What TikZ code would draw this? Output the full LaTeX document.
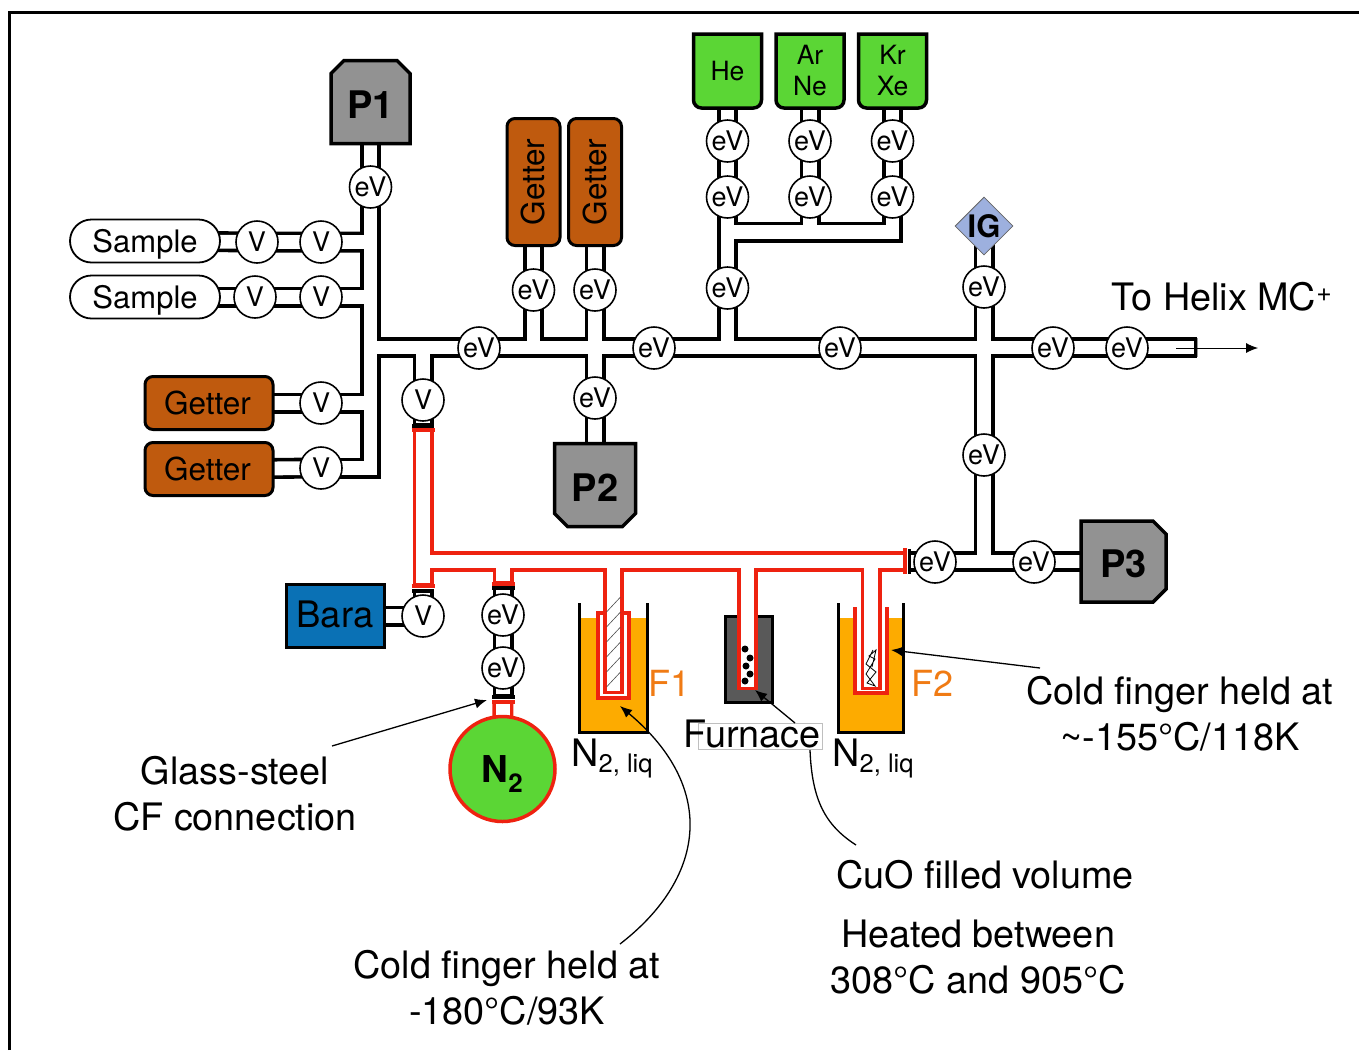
\documentclass[tikz,border=0pt]{standalone}
\usepackage{fontspec}
\setmainfont{TeX Gyre Heros}
\usetikzlibrary{shapes.geometric}
\usetikzlibrary{shapes.misc}
\usetikzlibrary{backgrounds}
\usetikzlibrary{arrows.meta}

\begin{document}
\begin{tikzpicture}[x=1pt, y=-1pt]
    % Definitions
    \definecolor{pump-grey}{RGB}{146, 146, 146}
    \definecolor{getter-brown}{RGB}{191, 90, 14}
    \definecolor{gas-green}{RGB}{91, 214, 53}
    \definecolor{bara-blue}{RGB}{10, 113, 181}
    \definecolor{gauge-blue}{RGB}{157, 176, 222}
    \definecolor{pipe-red}{RGB}{238, 34, 16}
    \definecolor{nitrogen-orange}{RGB}{253, 171, 0}
    \definecolor{finger-orange}{RGB}{240, 123, 20}
    \definecolor{furnace-grey}{RGB}{89, 89, 89}

    \tikzset{
        valvenode/.style={circle, draw, fill=white, line width=1.6pt,
            minimum size=42pt, inner sep=0, font=\fontsize{27}{30}\selectfont},
        pumpnode/.style={chamfered rectangle, draw, fill=pump-grey,
            line width=3.5pt, inner sep=0, chamfered rectangle xsep=6.5pt,
            chamfered rectangle ysep=6.5pt, text height=32pt, text depth=0pt,
            font=\fontsize{38}{40}\selectfont\bfseries},
        getternode/.style={rectangle, draw, fill=getter-brown, line width=3pt,
            rounded corners=8pt, inner sep=0,
            font=\fontsize{31.5}{34}\selectfont},
        samplenode/.style={rectangle, draw, fill=white, line width=1.8pt,
            rounded corners=21.5pt, minimum width=150pt, minimum height=43pt,
            inner sep=0, text depth=0pt, font=\fontsize{31}{34}\selectfont},
        textnote/.style={align=center, inner sep=0,
            font=\fontsize{37.8}{46}\selectfont},
        notearrow/.style={line width=1.3pt, -{Latex[length=12pt, width=10pt]}},
        pipeouter/.style={line width=21pt},
        pipecore/.style={line width=13.8pt, white, shorten >=3pt},
        flange/.style={line width=3.6pt, line cap=butt}
    }

    \newcommand{\drawbottle}[3]{
        \filldraw[fill=gas-green, line width=3.5pt]
            (#2-34,34) -- (#2+34,34) [rounded corners=8pt]
            -- (#2+34,108) -- (#2-34,108) [sharp corners] -- cycle;
        \node[align=center, inner sep=0,
              font=\fontsize{26.5}{31}\selectfont
        ] (#1) at (#2,71) {#3};
    }

    \newcommand{\drawdewar}[2]{
        \fill[nitrogen-orange] (#1,618) rectangle (#2,732);
        \draw[line width=3pt] (#1,603) -- (#1,732) -- (#2,732) -- (#2,603);
    }

    % Frame
    \useasboundingbox (0,0) rectangle (1359,1050);
    \draw[line width=3pt] (9,1050) -- (9,12) -- (1359,12);

    % Pumps
    \node[pumpnode, chamfered rectangle corners={north west, north east},
          minimum width=79pt, minimum height=83pt
    ] (p1) at (370.5,102) {P1};
    \node[pumpnode, chamfered rectangle corners={south west, south east},
          minimum width=81pt, minimum height=83pt
    ] (p2) at (595,485) {P2};
    \node[pumpnode, chamfered rectangle corners={north east, south east},
          minimum width=85pt, minimum height=81pt
    ] (p3) at (1123.5,561.5) {P3};

    % Samples and getters
    \node[samplenode] (sample-a) at (145,241) {Sample};
    \node[samplenode] (sample-b) at (145,297) {Sample};
    \node[getternode, minimum width=128pt, minimum height=53pt
    ] (getter-c) at (209,403) {\hspace{-3pt}Getter};
    \node[getternode, minimum width=128pt, minimum height=53pt
    ] (getter-d) at (209,469) {\hspace{-3pt}Getter};
    \node[getternode, minimum width=127pt, minimum height=53pt, rotate=90
    ] (getter-e) at (533.5,182) {Getter};
    \node[getternode, minimum width=127pt, minimum height=53pt, rotate=90
    ] (getter-f) at (595,182) {Getter};

    % Gas bottles
    \drawbottle{gas-he}{727.5}{He}
    \drawbottle{gas-ar}{810}{Ar\\Ne}
    \drawbottle{gas-kr}{892.5}{Kr\\Xe}

    % Left valves
    \node[valvenode] (v-a1) at (257,242) {V};
    \node[valvenode] (v-a2) at (321,242) {V};
    \node[valvenode] (v-b1) at (255,297) {V};
    \node[valvenode] (v-b2) at (321,297) {V};
    \node[valvenode] (v-c) at (321,403) {V};
    \node[valvenode] (v-d) at (321,468) {V};
    \node[valvenode] (v-top) at (423,400) {V};
    \node[valvenode] (v-bara) at (423,616) {V};

    % Valves on the main line
    \node[valvenode] (ev-p1) at (370.5,187) {eV};
    \node[valvenode] (ev-m1) at (479,348) {eV};
    \node[valvenode] (ev-e) at (533.5,290) {eV};
    \node[valvenode] (ev-f) at (595,290) {eV};
    \node[valvenode] (ev-p2) at (595,398) {eV};
    \node[valvenode] (ev-m2) at (654,348) {eV};
    \node[valvenode] (ev-m3) at (840,348) {eV};
    \node[valvenode] (ev-m4) at (1053,348) {eV};
    \node[valvenode] (ev-m5) at (1127,348) {eV};

    % Valves of the gas bottles
    \node[valvenode] (ev-he1) at (727.5,141) {eV};
    \node[valvenode] (ev-he2) at (727.5,197) {eV};
    \node[valvenode] (ev-he3) at (727.5,288) {eV};
    \node[valvenode] (ev-ar1) at (810,141) {eV};
    \node[valvenode] (ev-ar2) at (810,197) {eV};
    \node[valvenode] (ev-kr1) at (892.5,141) {eV};
    \node[valvenode] (ev-kr2) at (892.5,197) {eV};

    % Gauge, P3 line, N2 line
    \node[diamond, draw=black!60, fill=gauge-blue, line width=0.8pt, aspect=1,
          minimum size=58pt, inner sep=0,
          font=\fontsize{31}{34}\selectfont\bfseries
    ] (ig) at (984,226) {IG};
    \node[valvenode] (ev-ig) at (984,287) {eV};
    \node[valvenode] (ev-d) at (984,455) {eV};
    \node[valvenode] (ev-r1) at (935,562) {eV};
    \node[valvenode] (ev-r2) at (1034,562) {eV};
    \node[valvenode] (ev-n1) at (503,615) {eV};
    \node[valvenode] (ev-n2) at (503,668) {eV};

    % Bara and N2
    \node[rectangle, draw, fill=bara-blue, line width=3pt,
          minimum width=98pt, minimum height=63pt, inner sep=0, text depth=3pt,
          font=\fontsize{36.5}{40}\selectfont
    ] (bara) at (335,616) {Bara};
    \node[circle, draw=pipe-red, fill=gas-green, line width=3.5pt,
          minimum size=105pt, inner sep=0, text depth=0pt,
          font=\fontsize{37}{40}\selectfont\bfseries
    ] (n2) at (502.5,769) {N\textsubscript{2}};

    % Pipe ends
    \coordinate (main-end) at (1197,347.5);
    \coordinate (gas-head) at (727.5,232);
    \coordinate (fl-top-k) at (423,426);
    \coordinate (fl-top-r) at (423,430);
    \coordinate (fl-low-r) at (423,586);
    \coordinate (fl-low-k) at (423,591);
    \coordinate (fl-east-r) at (906,561.5);
    \coordinate (fl-east-k) at (909,561.5);
    \coordinate (fl-n1-r) at (503,584);
    \coordinate (fl-n1-k) at (503,588);
    \coordinate (fl-n2-k) at (503,697);
    \coordinate (fl-n2-r) at (503,702);
    \coordinate (f1-end) at (613.5,693.5);
    \coordinate (furn-end) at (747.5,689.5);
    \coordinate (f2-end) at (871,689.5);

    \newcommand{\drawredpipes}[1]{
        \draw[#1] (fl-top-r) -- (fl-low-r);
        \draw[#1] (fl-top-r |- fl-east-r) -- (fl-east-r);
        \draw[#1] (fl-n1-r |- fl-east-r) -- (fl-n1-r);
        \draw[#1] (f1-end |- fl-east-r) -- (f1-end);
        \draw[#1] (furn-end |- fl-east-r) -- (furn-end);
        \draw[#1] (f2-end |- fl-east-r) -- (f2-end);
        \draw[#1] (fl-n2-r) -- (n2.center);
    }

    \newcommand{\drawblackpipes}[1]{
        \draw[#1] (p1.center) |- (v-d.center);
        \draw[#1] (sample-a.center) -- (v-a1.center) -- (v-a2.center)
            -- (v-a2 -| p1);
        \draw[#1] (sample-b.center) -- (v-b1.center) -- (v-b2.center)
            -- (v-b2 -| p1);
        \draw[#1] (getter-c.center) -- (v-c -| p1);
        \draw[#1] (getter-d.center) -- (v-d.center);
        \draw[#1] (p1 |- main-end) -- (main-end);
        \draw[#1] (v-top |- main-end) -- (fl-top-k);
        \draw[#1] (getter-e.center) -- (getter-e |- main-end);
        \draw[#1] (getter-f.center) -- (p2.center);
        \draw[#1] (gas-he.center) -- (gas-he |- main-end);
        \draw[#1] (gas-ar.center) -- (gas-ar |- gas-head);
        \draw[#1] (gas-kr.center) |- (gas-head);
        \draw[#1] (ig.center) -- (ig |- ev-r2);
        \draw[#1] (fl-east-k) -- (p3.center);
        \draw[#1] (bara.center) -- (v-bara.center);
        \draw[#1] (fl-low-k) -- (v-bara.center);
        \draw[#1] (fl-n1-k) -- (fl-n2-k);
    }

    \begin{scope}[on background layer]
        % Baths and furnace
        \drawdewar{579}{647}
        \drawdewar{838}{903}
        \filldraw[fill=furnace-grey, line width=3pt]
            (725,616) rectangle (772,702);

        % Outer jackets of the cold fingers
        \filldraw[fill=white, draw=pipe-red, line width=3.5pt]
            (605,613) -- (598,613) -- (598,698) -- (629,698)
            -- (629,613) -- (622,613);
        \filldraw[fill=white, draw=pipe-red, line width=3.5pt]
            (855,607) -- (855,693) -- (887,693) -- (887,607);

        % Red steel
        \drawredpipes{pipeouter, pipe-red}
        \drawredpipes{pipecore}

        % Fill of F1, furnace and F2
        \foreach \y in {612,627,...,687} {
            \draw[line width=0.6pt, black!70] (606.5,\y) -- (620.5,\y-15);
        }
        \foreach \px/\py in {745/649, 750/658, 746/666, 750/674, 745/681} {
            \fill (\px,\py) circle (3.5);
        }
        \draw[line width=0.8pt] (873,650) -- (866,664) -- (876,672) -- (867,683)
            -- (875,686) -- (866,674) -- (875,659) -- (869,656)
            -- (876,650) -- (872,667);

        % Black steel
        \drawblackpipes{pipeouter}
        \drawblackpipes{pipecore}
    \end{scope}

    % Flanges
    \draw[flange, pipe-red] (411.5,430) -- (434.5,430);
    \draw[flange] (412,426) -- (434,426);
    \draw[flange, pipe-red] (411.5,586) -- (434.5,586);
    \draw[flange] (412,591) -- (434,591);
    \draw[flange, pipe-red] (905,548) -- (905,574);
    \draw[flange] (909.5,549) -- (909.5,574);
    \draw[flange, pipe-red] (492,584) -- (515,584);
    \draw[flange] (492,588) -- (515,588);
    \draw[flange] (492,697) -- (515,697);
    \draw[flange, pipe-red] (492,702) -- (515,702);

    % Outlet
    \draw[line width=0.5pt, black!40] (1197,338) -- (1197,357);
    \coordinate (out-start) at (1176,348);
    \coordinate (out-tip) at (1258,348);
    \draw[notearrow, line width=0.9pt] (out-start) -- (out-tip);
    \node[textnote] (helix) at (1222,297) {To Helix MC\textsuperscript{+}};

    % Bath labels
    \node[textnote, text=finger-orange, font=\fontsize{36}{40}\selectfont
    ] (f1-label) at (669.5,683) {F1};
    \node[textnote, text=finger-orange, font=\fontsize{36}{40}\selectfont
    ] (f2-label) at (932,683) {F2};
    \node[textnote] (liq-a) at (612,758)
        {N\raisebox{-6pt}{\fontsize{25.5}{26}\selectfont 2, liq}};
    \node[textnote] (liq-b) at (873,758)
        {N\raisebox{-6pt}{\fontsize{25.5}{26}\selectfont 2, liq}};
    \node[rectangle, draw=black!25, fill=white, line width=0.6pt,
          minimum width=124pt, minimum height=26pt, inner sep=0
    ] (furnace-back) at (760,736) {};
    \node[textnote] (furnace) at (752,734) {Furnace};

    % Notes
    \node[textnote] (glass) at (235,794) {Glass-steel\\CF connection};
    \node[textnote] (cold-f2) at (1180,714)
        {Cold finger held at\\\textasciitilde-155°C/118K};
    \node[textnote] (cold-f1) at (507,988)
        {Cold finger held at\\-180°C/93K};
    \node[textnote] (cuo) at (985,875) {CuO filled volume};
    \node[textnote] (heated) at (978,957)
        {Heated between\\308°C and 905°C};

    % Note connectors
    \coordinate (glass-start) at (332,746);
    \coordinate (glass-tip) at (487,700);
    \coordinate (f2-start) at (1040,668);
    \coordinate (f2-tip) at (891,650);
    \coordinate (f1-start) at (620,944);
    \coordinate (f1-tip) at (620,706);
    \coordinate (furn-start) at (795,723);
    \coordinate (furn-tip) at (755,690);
    \coordinate (cuo-start) at (810,750);
    \coordinate (cuo-end) at (856,845);
    \draw[notearrow] (glass-start) -- (glass-tip);
    \draw[notearrow] (f2-start) -- (f2-tip);
    \draw[notearrow] (f1-start) .. controls (703,880) and (720,790) .. (f1-tip);
    \draw[notearrow] (furn-start) -- (furn-tip);
    \draw[line width=1.3pt] (cuo-start)
        .. controls (812,800) and (825,825) .. (cuo-end);
\end{tikzpicture}
\end{document}
